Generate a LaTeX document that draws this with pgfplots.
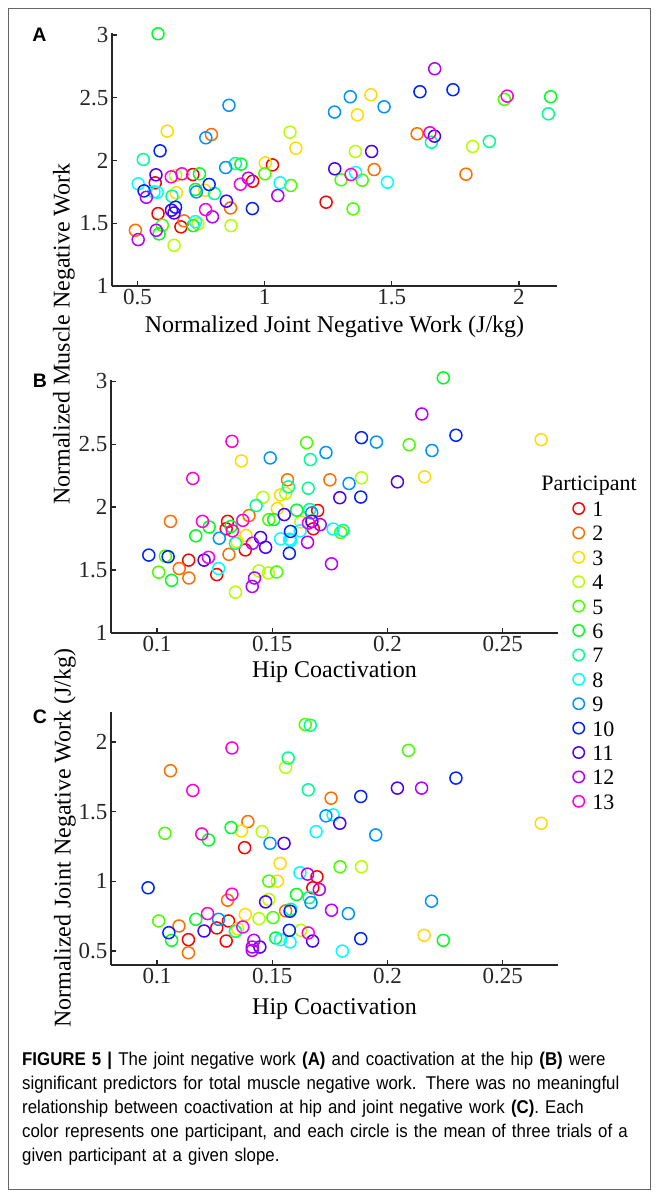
\documentclass[border=0pt]{standalone}
\usepackage{fontspec}
\setmainfont{Liberation Serif}
\newfontfamily\sansfont{Liberation Sans}
\newfontfamily\capfont[FakeStretch=0.91]{Liberation Sans}
\usepackage{pgfplots}
\pgfplotsset{compat=1.18}
\definecolor{axc}{rgb}{0.15,0.15,0.15}
\definecolor{c1}{rgb}{1,0,0}
\definecolor{c2}{rgb}{1,0.4286,0}
\definecolor{c3}{rgb}{1,0.857,0}
\definecolor{c4}{rgb}{0.714,1,0}
\definecolor{c5}{rgb}{0.286,1,0}
\definecolor{c6}{rgb}{0,1,0.143}
\definecolor{c7}{rgb}{0,1,0.571}
\definecolor{c8}{rgb}{0,1,1}
\definecolor{c9}{rgb}{0,0.571,1}
\definecolor{c10}{rgb}{0,0.143,1}
\definecolor{c11}{rgb}{0.286,0,1}
\definecolor{c12}{rgb}{0.714,0,1}
\definecolor{c13}{rgb}{1,0,0.857}
\pgfplotsset{
 panel/.style={
  scale only axis, anchor=south west,
  axis lines=left, axis line style={-, line width=1.6bp, color=axc},
  x axis line style={-}, y axis line style={-},
  major tick style={line width=1.4bp, color=axc},
  major tick length=5bp,
  tick align=inside,
  clip=false, scaled ticks=false,
  tick label style={font=\fontsize{23bp}{23bp}\selectfont, color=axc},
  /pgf/number format/assume math mode=true,
  label style={font=\fontsize{24bp}{24bp}\selectfont},
  every axis plot/.append style={only marks, mark=o, mark size=6bp, line width=1.5bp},
 },
}
\begin{document}
\begin{tikzpicture}
\path[use as bounding box] (0,0) rectangle (657bp,-1196bp);
\draw[black!60, line width=0.8bp] (8bp,-8bp) rectangle (650bp,-1189bp);
% ---------------- Panel A
\begin{axis}[panel, at={(112bp,-286bp)}, width=445bp, height=253bp,
 xmin=0.40, xmax=2.15, ymin=1, ymax=3.016,
 xtick={0.5,1,1.5,2}, ytick={1,1.5,2,2.5,3},
 xlabel={Normalized Joint Negative Work (J/kg)},
 xlabel style={at={(axis description cs:0.5,0)}, anchor=center, yshift=-41bp}]
\addplot[c1] coordinates {(1.031,1.965) (0.718,1.888) (0.570,1.822) (0.953,1.835) (0.581,1.577) (0.671,1.471) (1.242,1.668)};
\addplot[c2] coordinates {(0.791,2.207) (0.866,1.622) (0.683,1.519) (0.492,1.444) (1.600,2.213) (1.431,1.928) (1.792,1.891)};
\addplot[c3] coordinates {(0.617,2.234) (1.123,2.098) (1.003,1.981) (0.653,1.742) (0.765,1.763) (1.418,2.524) (1.365,2.364)};
\addplot[c4] coordinates {(1.100,2.226) (0.650,1.880) (0.738,1.495) (0.644,1.324) (0.868,1.481) (1.818,2.112) (1.357,2.072)};
\addplot[c5] coordinates {(1.001,1.894) (1.103,1.801) (0.598,1.484) (1.943,2.487) (1.301,1.846) (1.384,1.843) (1.348,1.614)};
\addplot[c6] coordinates {(0.581,3.01) (0.907,1.971) (0.744,1.894) (0.728,1.769) (0.719,1.481) (0.585,1.415) (2.125,2.508)};
\addplot[c7] coordinates {(0.523,2.008) (0.885,1.976) (0.636,1.715) (0.803,1.737) (2.116,2.372) (1.656,2.146) (1.884,2.152)};
\addplot[c8] coordinates {(0.503,1.814) (0.578,1.747) (0.565,1.750) (1.061,1.822) (0.728,1.513) (1.358,1.904) (1.483,1.827)};
\addplot[c9] coordinates {(0.860,2.44) (0.769,2.181) (0.847,1.944) (0.732,1.750) (1.337,2.508) (1.470,2.428) (1.275,2.386)};
\addplot[c10] coordinates {(0.589,2.077) (0.526,1.758) (0.782,1.809) (0.952,1.617) (0.650,1.628) (1.611,2.548) (1.741,2.564)};
\addplot[c11] coordinates {(0.573,1.886) (0.850,1.676) (0.644,1.582) (0.634,1.604) (1.668,2.194) (1.421,2.072) (1.276,1.934)};
\addplot[c12] coordinates {(0.535,1.707) (0.936,1.859) (1.052,1.721) (0.795,1.551) (0.574,1.444) (0.503,1.370) (1.669,2.731)};
\addplot[c13] coordinates {(0.633,1.870) (0.675,1.894) (0.905,1.811) (0.768,1.609) (1.954,2.513) (1.650,2.221) (1.340,1.888)};
\end{axis}
% ---------------- Panel B
\begin{axis}[panel, at={(111bp,-633bp)}, width=447bp, height=253bp,
 xmin=0.08, xmax=0.274, ymin=1, ymax=3.01,
 xtick={0.1,0.15,0.2,0.25}, ytick={1,1.5,2,2.5,3},
 xlabel={Hip Coactivation},
 xlabel style={at={(axis description cs:0.5,0)}, anchor=center, yshift=-39bp},
 legend image code/.code={\draw[mark repeat=2,mark phase=2,#1,mark size=5.7bp] plot coordinates {(0bp,0bp) (7bp,0bp) (14bp,0bp)};},
 legend cell align=left,
 legend style={at={(axis description cs:1.0336,0.5237)}, anchor=north west, draw=none, fill=none,
   inner sep=0pt, outer sep=0pt, row sep=8.4bp, column sep=8bp,
   font=\fontsize{22bp}{22bp}\selectfont,
   nodes={inner sep=0pt, text height=16bp, text depth=0bp}}]
\addplot[c1] coordinates {(0.1697,1.973) (0.1678,1.828) (0.1306,1.887) (0.1300,1.828) (0.1383,1.660) (0.1137,1.579) (0.1259,1.464)};
\addlegendentry{1}
\addplot[c2] coordinates {(0.1566,2.217) (0.1750,2.217) (0.1058,1.887) (0.1399,1.933) (0.1312,1.625) (0.1096,1.512) (0.1138,1.437)};
\addlegendentry{2}
\addplot[c3] coordinates {(0.1366,2.367) (0.1536,2.097) (0.1522,1.989) (0.1386,1.775) (0.1347,1.727) (0.2667,2.536) (0.2161,2.241)};
\addlegendentry{3}
\addplot[c4] coordinates {(0.1558,2.110) (0.1459,2.078) (0.1624,1.882) (0.1442,1.493) (0.1483,1.477) (0.1340,1.324) (0.1887,2.233)};
\addlegendentry{4}
\addplot[c5] coordinates {(0.1649,2.512) (0.1485,1.901) (0.1036,1.611) (0.1007,1.483) (0.1519,1.485) (0.2094,2.496) (0.1797,1.799)};
\addlegendentry{5}
\addplot[c6] coordinates {(0.1606,1.976) (0.1506,1.901) (0.1226,1.842) (0.1321,1.847) (0.1168,1.772) (0.1063,1.418) (0.2242,3.027)};
\addlegendentry{6}
\addplot[c7] coordinates {(0.1665,2.378) (0.1570,2.161) (0.1656,2.150) (0.1430,2.013) (0.1662,1.981) (0.1340,1.713) (0.1807,1.815)};
\addlegendentry{7}
\addplot[c8] coordinates {(0.1621,1.812) (0.1536,1.748) (0.1580,1.735) (0.1267,1.512) (0.1764,1.826) (0.1575,1.745)};
\addlegendentry{8}
\addplot[c9] coordinates {(0.1491,2.391) (0.1733,2.434) (0.1671,1.954) (0.1270,1.753) (0.1952,2.517) (0.2193,2.450) (0.1833,2.188)};
\addlegendentry{9}
\addplot[c10] coordinates {(0.1579,1.807) (0.1574,1.633) (0.0964,1.619) (0.1048,1.606) (0.1887,2.552) (0.2297,2.571) (0.1884,2.080)};
\addlegendentry{10}
\addplot[c11] coordinates {(0.1552,1.941) (0.1672,1.887) (0.1449,1.759) (0.1471,1.681) (0.1204,1.579) (0.2043,2.201) (0.1793,2.075)};
\addlegendentry{11}
\addplot[c12] coordinates {(0.1708,1.861) (0.1414,1.713) (0.1653,1.721) (0.1423,1.437) (0.1413,1.370) (0.2149,2.740) (0.1757,1.550)};
\addlegendentry{12}
\addplot[c13] coordinates {(0.1325,2.523) (0.1155,2.228) (0.1657,1.874) (0.1197,1.887) (0.1327,1.812) (0.1372,1.895) (0.1223,1.601)};
\addlegendentry{13}
\end{axis}
% ---------------- Panel C
\begin{axis}[panel, at={(111bp,-965bp)}, width=447bp, height=253bp,
 xmin=0.08, xmax=0.274, ymin=0.4, ymax=2.215,
 xtick={0.1,0.15,0.2,0.25}, ytick={0.5,1,1.5,2},
 xlabel={Hip Coactivation},
 xlabel style={at={(axis description cs:0.5,0)}, anchor=center, yshift=-44bp}]
\addplot[c1] coordinates {(0.1380,1.242) (0.1694,1.033) (0.1676,0.954) (0.1259,0.666) (0.1310,0.716) (0.1136,0.582) (0.1300,0.572)};
\addplot[c2] coordinates {(0.1058,1.794) (0.1755,1.597) (0.1394,1.429) (0.1306,0.865) (0.1558,0.788) (0.1095,0.680) (0.1136,0.488)};
\addplot[c3] coordinates {(0.1366,1.362) (0.1534,1.129) (0.1522,1.002) (0.1383,0.762) (0.1350,0.660) (0.2667,1.417) (0.2159,0.613)};
\addplot[c4] coordinates {(0.1558,1.818) (0.1456,1.357) (0.1485,0.870) (0.1442,0.733) (0.1624,0.649) (0.1887,1.105) (0.1340,0.640)};
\addplot[c5] coordinates {(0.1643,2.125) (0.1034,1.345) (0.1485,1.002) (0.1007,0.716) (0.1503,0.740) (0.2091,1.940) (0.1794,1.105)};
\addplot[c6] coordinates {(0.1223,1.297) (0.1321,1.386) (0.1605,0.906) (0.1168,0.728) (0.1063,0.577) (0.1515,0.594) (0.2242,0.577)};
\addplot[c7] coordinates {(0.1665,2.120) (0.1569,1.885) (0.1656,1.657) (0.1660,0.884) (0.1580,0.800) (0.1340,0.642)};
\addplot[c8] coordinates {(0.1690,1.357) (0.1620,1.062) (0.1536,0.582) (0.1577,0.565) (0.1764,1.477) (0.1804,0.500)};
\addplot[c9] coordinates {(0.1733,1.470) (0.1490,1.273) (0.1668,0.848) (0.1267,0.728) (0.1949,1.333) (0.1830,0.769) (0.2191,0.858)};
\addplot[c10] coordinates {(0.0961,0.954) (0.1577,0.786) (0.1051,0.632) (0.1574,0.649) (0.2297,1.741) (0.1884,1.609) (0.1884,0.589)};
\addplot[c11] coordinates {(0.1551,1.273) (0.1471,0.853) (0.1204,0.644) (0.1675,0.572) (0.2043,1.669) (0.1793,1.417) (0.1446,0.529)};
\addplot[c12] coordinates {(0.1653,1.052) (0.1704,0.942) (0.1757,0.793) (0.1420,0.577) (0.1413,0.529) (0.1413,0.505) (0.2148,1.669)};
\addplot[c13] coordinates {(0.1325,1.957) (0.1155,1.652) (0.1194,1.340) (0.1325,0.908) (0.1219,0.769) (0.1372,0.673) (0.1656,0.630)};
\end{axis}
% ---------------- labels
\node[rotate=90, font=\fontsize{24bp}{24bp}\selectfont] at (64bp,-334bp) {Normalized Muscle Negative Work};
\node[rotate=90, font=\fontsize{24bp}{24bp}\selectfont] at (65bp,-838bp) {Normalized Joint Negative Work (J/kg)};
\node[font=\fontsize{22bp}{22bp}\selectfont] at (589bp,-486bp) {Participant};
\node[font=\sansfont\bfseries\fontsize{19.5bp}{19.5bp}\selectfont] at (39.5bp,-35bp) {A};
\node[font=\sansfont\bfseries\fontsize{19.5bp}{19.5bp}\selectfont] at (40bp,-381bp) {B};
\node[font=\sansfont\bfseries\fontsize{19.5bp}{19.5bp}\selectfont] at (40bp,-717bp) {C};
\node[anchor=north west, inner sep=0pt, text width=630bp, align=left,
 font=\capfont\fontsize{18.5bp}{24bp}\selectfont] at (22bp,-1052bp)
 {\textbf{FIGURE 5 |} The joint negative work \textbf{(A)} and coactivation at the hip \textbf{(B)} were\\
 significant predictors for total muscle negative work. There was no meaningful\\
 relationship between coactivation at hip and joint negative work \textbf{(C)}. Each\\
 color represents one participant, and each circle is the mean of three trials of a\\
 given participant at a given slope.};
\end{tikzpicture}
\end{document}
